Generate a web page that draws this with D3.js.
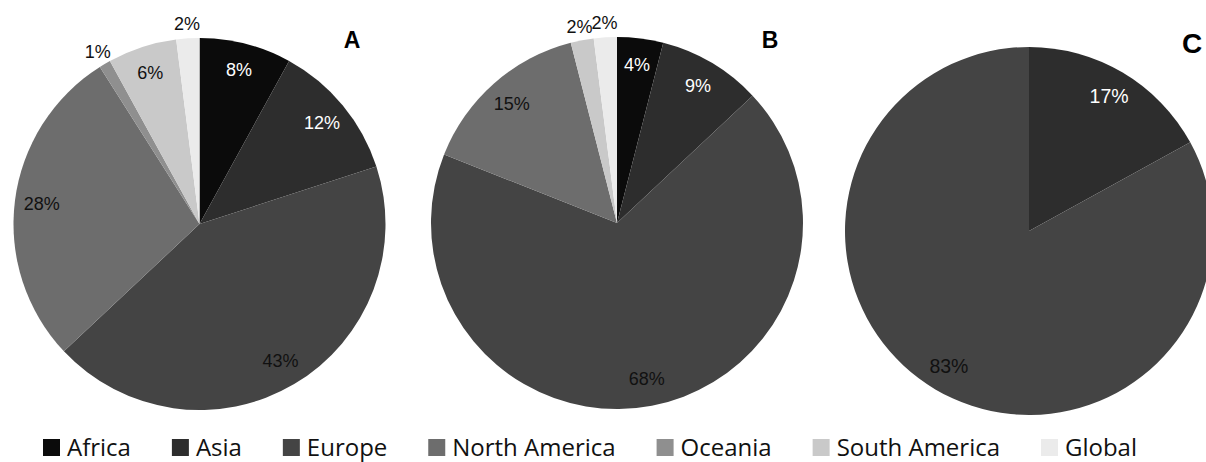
<!DOCTYPE html>
<html>
<head>
<meta charset="utf-8">
<script src="https://cdn.jsdelivr.net/npm/d3@7"></script>
<style>
  html, body { margin: 0; padding: 0; background: #ffffff; }
  svg { display: block; }
</style>
</head>
<body>
<svg id="chart" width="1206" height="462"></svg>
<script>
// ---- data ----
const categories = ["Africa", "Asia", "Europe", "North America", "Oceania", "South America", "Global"];
const panelNames = ["A", "B", "C"];
const valuesA = [8, 12, 43, 28, 1, 6, 2];
const valuesB = [4, 9, 68, 15, 0, 2, 2];
const valuesC = [0, 17, 83, 0, 0, 0, 0];
const sliceColors = ["#0b0b0b", "#2d2d2d", "#444444", "#6d6d6d", "#8f8f8f", "#c9c9c9", "#ebebeb"];
const labelColors = ["#ffffff", "#ffffff", "#111111", "#111111", "#111111", "#111111", "#111111"];

// ---- layout ----
const svg = d3.select("#chart");
const panels = [
  { name: panelNames[0], values: valuesA, cx: 199.5, cy: 224, r: 186, lx: 352, ly: 40, lsize: 23, fsize: 18 },
  { name: panelNames[1], values: valuesB, cx: 617, cy: 223, r: 186, lx: 770, ly: 40, lsize: 23, fsize: 18 },
  { name: panelNames[2], values: valuesC, cx: 1029, cy: 231, r: 184, lx: 1192, ly: 43, lsize: 28, fsize: 19.5 }
];

const color = d3.scaleOrdinal().domain(categories).range(sliceColors);
const labelColor = d3.scaleOrdinal().domain(categories).range(labelColors);

const pie = d3.pie().sort(null).value(d => d.v);

panels.forEach(p => {
  const data = categories.map((c, i) => ({ c, v: p.values[i] }));
  const arcs = pie(data);
  const arc = d3.arc().innerRadius(0).outerRadius(p.r);
  const inLabel = d3.arc().innerRadius(p.r * 0.855).outerRadius(p.r * 0.855);
  const outLabel = d3.arc().innerRadius(p.r * 1.075).outerRadius(p.r * 1.075);
  const g = svg.append("g").attr("transform", `translate(${p.cx},${p.cy})`);

  g.selectAll("path.slice")
    .data(arcs.filter(a => a.data.v > 0))
    .join("path")
    .attr("class", "slice")
    .attr("d", arc)
    .attr("fill", a => color(a.data.c));

  const total = d3.sum(p.values);
  g.selectAll("text.pct")
    .data(arcs.filter(a => a.data.v > 0))
    .join("text")
    .attr("class", "pct")
    .attr("transform", a => {
      const pos = (a.data.v / total < 0.03 ? outLabel : inLabel).centroid(a);
      return `translate(${pos[0]},${pos[1]})`;
    })
    .attr("text-anchor", "middle")
    .attr("dominant-baseline", "central")
    .attr("font-family", "'Liberation Sans', Arial, sans-serif")
    .attr("font-size", p.fsize)
    .attr("fill", a => a.data.v / total < 0.03 ? "#111111" : labelColor(a.data.c))
    .text(a => Math.round(a.data.v / total * 100) + "%");

  svg.append("text")
    .attr("x", p.lx)
    .attr("y", p.ly)
    .attr("text-anchor", "middle")
    .attr("dominant-baseline", "central")
    .attr("font-family", "'Liberation Sans', Arial, sans-serif")
    .attr("font-weight", "bold")
    .attr("font-size", p.lsize)
    .attr("fill", "#000000")
    .text(p.name);
});

// ---- legend ----
const legX0 = 43, legX1 = 1137, legY = 439, sq = 17, sqGap = 7, fontSize = 24;
const leg = svg.append("g");
const items = leg.selectAll("g.item").data(categories).join("g").attr("class", "item");
items.append("rect")
  .attr("width", sq).attr("height", sq).attr("y", legY)
  .attr("fill", d => color(d));
items.append("text")
  .attr("x", sq + sqGap)
  .attr("y", legY + sq)
  .attr("font-family", "'Open Sans', 'Noto Sans', sans-serif")
  .attr("font-size", fontSize)
  .attr("fill", "#111111")
  .text(d => d);
const widths = [];
items.each(function () { widths.push(sq + sqGap + d3.select(this).select("text").node().getComputedTextLength()); });
const gap = (legX1 - legX0 - d3.sum(widths)) / (categories.length - 1);
let xx = legX0;
items.each(function (d, i) {
  d3.select(this).attr("transform", `translate(${xx},0)`);
  xx += widths[i] + gap;
});
</script>
</body>
</html>
